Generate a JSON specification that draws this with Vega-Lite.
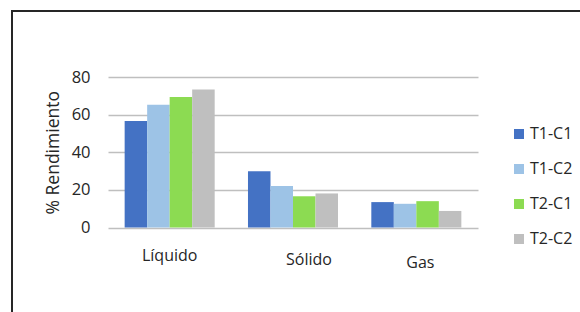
{
  "$schema": "https://vega.github.io/schema/vega-lite/v6.json",
  "autosize": {"type": "none"},
  "padding": {"left": 12, "top": 11, "right": -6, "bottom": -6},
  "width": 574,
  "height": 307,
  "background": "white",
  "config": {
    "view": {"stroke": "#262626", "strokeWidth": 2},
    "font": "Open Sans"
  },
  "data": {
    "values": [
      {"fase": "Líquido", "serie": "T1-C1", "valor": 56.6},
      {"fase": "Líquido", "serie": "T1-C2", "valor": 65.3},
      {"fase": "Líquido", "serie": "T2-C1", "valor": 69.4},
      {"fase": "Líquido", "serie": "T2-C2", "valor": 73.3},
      {"fase": "Sólido", "serie": "T1-C1", "valor": 29.9},
      {"fase": "Sólido", "serie": "T1-C2", "valor": 22.1},
      {"fase": "Sólido", "serie": "T2-C1", "valor": 16.6},
      {"fase": "Sólido", "serie": "T2-C2", "valor": 18.1},
      {"fase": "Gas", "serie": "T1-C1", "valor": 13.5},
      {"fase": "Gas", "serie": "T1-C2", "valor": 12.6},
      {"fase": "Gas", "serie": "T2-C1", "valor": 14.0},
      {"fase": "Gas", "serie": "T2-C2", "valor": 8.8}
    ]
  },
  "mark": {"type": "bar"},
  "encoding": {
    "x": {
      "field": "fase",
      "type": "nominal",
      "sort": ["Líquido", "Sólido", "Gas"],
      "scale": {"range": [96, 466], "paddingInner": 0.27, "paddingOuter": 0.135},
      "axis": {
        "title": null,
        "orient": "bottom",
        "offset": -90.5,
        "domain": false,
        "ticks": false,
        "grid": false,
        "labelAngle": 0,
        "labelFontSize": 16,
        "labelColor": "#262626",
        "labelPadding": {
          "condition": [
            {"test": "datum.value === 'Sólido'", "value": 23.5},
            {"test": "datum.value === 'Gas'", "value": 27}
          ],
          "value": 19.5
        },
        "labelOffset": {
          "condition": [
            {"test": "datum.value === 'Sólido'", "value": 16},
            {"test": "datum.value === 'Gas'", "value": 4}
          ],
          "value": 0
        }
      }
    },
    "xOffset": {
      "field": "serie",
      "type": "nominal",
      "sort": ["T1-C1", "T1-C2", "T2-C1", "T2-C2"],
      "scale": {"paddingInner": 0, "paddingOuter": 0}
    },
    "y": {
      "field": "valor",
      "type": "quantitative",
      "scale": {"domain": [0, 80], "range": [216.5, 66], "nice": false, "zero": true},
      "axis": {
        "title": "% Rendimiento",
        "orient": "left",
        "offset": -96,
        "values": [0, 20, 40, 60, 80],
        "grid": true,
        "gridColor": "#BFBFBF",
        "gridWidth": 1.5,
        "domain": false,
        "ticks": false,
        "labelFontSize": 16.5,
        "labelColor": "#262626",
        "labelPadding": 18,
        "titleFontSize": 17.5,
        "titleFontWeight": "normal",
        "titleColor": "#262626",
        "titlePadding": 9
      }
    },
    "color": {
      "field": "serie",
      "type": "nominal",
      "sort": ["T1-C1", "T1-C2", "T2-C1", "T2-C2"],
      "scale": {
        "domain": ["T1-C1", "T1-C2", "T2-C1", "T2-C2"],
        "range": ["#4472C4", "#9DC3E6", "#8CDB52", "#BFBFBF"]
      },
      "legend": {
        "title": null,
        "orient": "none",
        "legendX": 499,
        "legendY": 115,
        "symbolType": "square",
        "symbolSize": 100,
        "symbolStrokeWidth": 0,
        "labelFontSize": 16,
        "labelColor": "#262626",
        "labelOffset": 3,
        "rowPadding": 19,
        "padding": 0
      }
    }
  }
}
